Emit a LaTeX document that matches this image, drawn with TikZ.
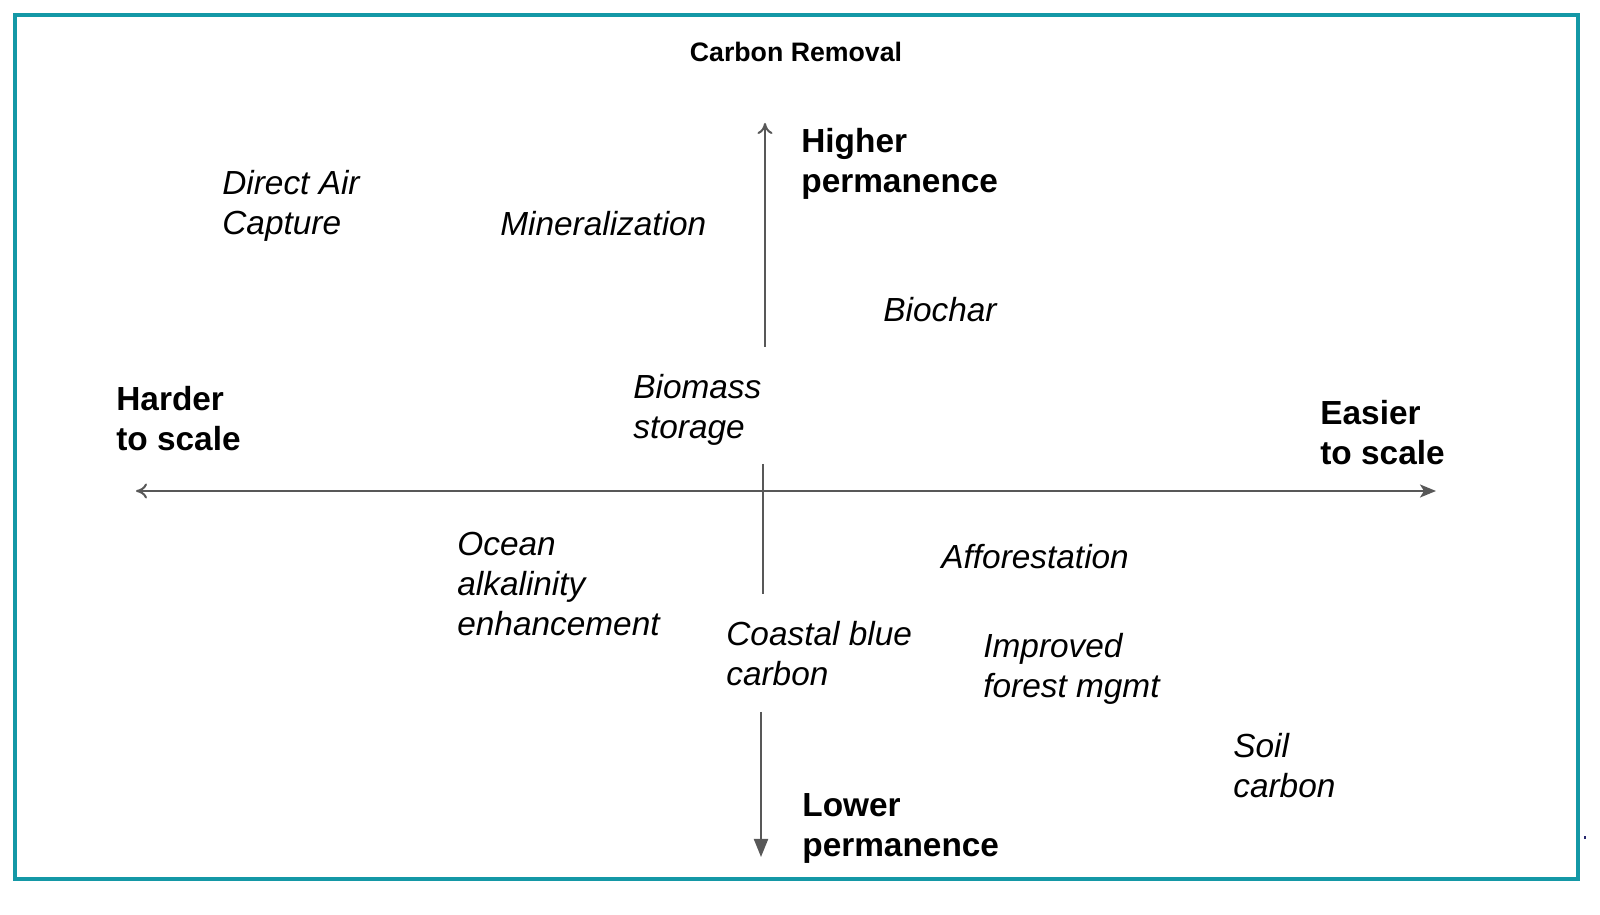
\documentclass[tikz,border=0pt]{standalone}
\usepackage{fontspec}
\setmainfont{Liberation Sans}
\usetikzlibrary{arrows.meta}
\definecolor{frameteal}{RGB}{20,152,166}
\definecolor{axisgray}{RGB}{88,88,88}
\definecolor{dotnavy}{RGB}{40,40,110}
\tikzset{
	method/.style={anchor=north west, inner sep=0pt, align=left, font=\fontsize{19}{22.8}\selectfont\itshape},
	axislabel/.style={anchor=north west, inner sep=0pt, align=left, font=\fontsize{19}{22.8}\selectfont\bfseries},
	axisline/.style={draw=axisgray, line width=0.04cm}
}

\begin{document}
\begin{tikzpicture}
		%%%%% START %%%%%
		\useasboundingbox (0, 0) rectangle (32, 18.3);
		\draw[frameteal, line width=0.08cm] (0.30, 18.0) rectangle (31.56, 0.72);
		\fill[dotnavy] (31.68, 1.52) rectangle (31.72, 1.58);
		
		\node[font=\fontsize{15.2}{18}\selectfont\bfseries, anchor=north, inner sep=0pt] (title) at (15.92, 17.46) {Carbon Removal};
		
		% axes
		\coordinate (left) at (2.72, 8.48);
		\coordinate (right) at (28.72, 8.48);
		\coordinate (uptop) at (15.30, 15.84);
		\coordinate (upbot) at (15.30, 11.36);
		\coordinate (midtop) at (15.26, 9.02);
		\coordinate (midbot) at (15.26, 6.42);
		\coordinate (lowtop) at (15.22, 4.06);
		\coordinate (lowbot) at (15.22, 1.16);
		\draw[axisline, {To[length=0.22cm, width=0.3cm]}-{Stealth[length=0.32cm, width=0.26cm, inset=0.08cm]}] (left) -- (right);
		\draw[axisline, -{To[length=0.22cm, width=0.3cm]}] (upbot) -- (uptop);
		\draw[axisline] (midtop) -- (midbot);
		\draw[axisline, -{Triangle[length=0.36cm, width=0.28cm]}] (lowtop) -- (lowbot);
		
		% axis labels
		\node[axislabel] (higher) at (16.02, 15.74) {Higher\\permanence};
		\node[axislabel] (lower) at (16.04, 2.44) {Lower\\permanence};
		\node[axislabel] (harder) at (2.32, 10.58) {Harder\\to scale};
		\node[axislabel] (easier) at (26.40, 10.30) {Easier\\to scale};
		
		% removal methods
		\node[method] (dac) at (4.44, 14.90) {Direct Air\\Capture};
		\node[method] (mineral) at (10.00, 14.08) {Mineralization};
		\node[method] (biochar) at (17.66, 12.36) {Biochar};
		\node[method] (biomass) at (12.66, 10.82) {Biomass\\storage};
		\node[method] (ocean) at (9.14, 7.66) {Ocean\\alkalinity\\enhancement};
		\node[method] (afforest) at (18.82, 7.42) {Afforestation};
		\node[method] (coastal) at (14.52, 5.88) {Coastal blue\\carbon};
		\node[method] (forest) at (19.66, 5.64) {Improved\\forest mgmt};
		\node[method] (soil) at (24.66, 3.64) {Soil\\carbon};
		%%%%% END %%%%%
\end{tikzpicture}
\end{document}
